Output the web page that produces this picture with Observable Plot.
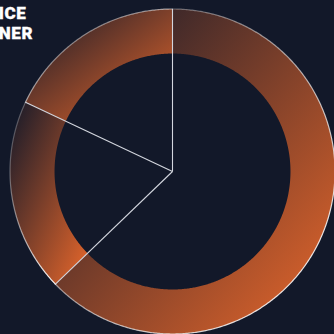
<!DOCTYPE html>
<html><head><meta charset="utf-8">
<script src="https://cdn.jsdelivr.net/npm/d3@7"></script>
<script src="https://cdn.jsdelivr.net/npm/@observablehq/plot@0.6"></script>
<style>
html,body{margin:0;padding:0;background:#121829;overflow:hidden;width:334px;height:334px}
#wrap{position:relative;width:334px;height:334px}
#chart{position:absolute;left:0;top:0}
#title{position:absolute;left:-1.2px;top:2.7px;font-family:Roboto,"Noto Sans",sans-serif;font-weight:900;font-size:17px;color:#fff;line-height:20px;letter-spacing:0.6px;white-space:nowrap;-webkit-text-stroke:0.3px #fff}
</style></head><body>
<div id="wrap"><div id="chart"></div><div id="title"></div></div>
<script>
// Data (clockwise from 12 o'clock)
const categories = ["Slice A", "Slice B", "Slice C"];
const shares = [62.8, 19.2, 18.0]; // percent
const titleLines = ["ICE", "NER"];

// geometry (unit circle)
const outerR = 1, innerR = 0.726;
const total = d3.sum(shares);
let acc = 0;
const slices = categories.map((c, i) => {
  const a0 = acc / total * 2 * Math.PI;
  acc += shares[i];
  const a1 = acc / total * 2 * Math.PI;
  return {c, i, a0, a1};
});
const pt = (r, a) => ({x: r * Math.sin(a), y: -r * Math.cos(a)});
const ringPts = [], rimPts = [];
for (const s of slices) {
  const n = Math.max(2, Math.ceil((s.a1 - s.a0) / (Math.PI / 360)));
  for (let k = 0; k <= n; k++) {
    const a = s.a0 + (s.a1 - s.a0) * k / n;
    ringPts.push({slice: s.c, ...pt(outerR, a)});
    rimPts.push({slice: s.c, ...pt(outerR, a)});
  }
  for (let k = n; k >= 0; k--) {
    const a = s.a0 + (s.a1 - s.a0) * k / n;
    ringPts.push({slice: s.c, ...pt(innerR, a)});
  }
}

const plot = Plot.plot({
  width: 334, height: 334,
  margin: 0,
  style: {background: "transparent", color: "white"},
  x: {domain: [-172 / 162.5, 162 / 162.5], range: [0, 334], axis: null},
  y: {domain: [-171 / 162.5, 163 / 162.5], range: [0, 334], axis: null},
  marks: [
    Plot.line(ringPts, {x: "x", y: "y", z: "slice", fill: "url(#ringFill)", stroke: "none", curve: "linear-closed"}),
    Plot.line(rimPts, {x: "x", y: "y", z: "slice", fill: "none", stroke: "url(#rimStroke)", strokeWidth: 1.2}),
    Plot.link(slices, {
      x1: d => 0, y1: d => 0,
      x2: d => pt(outerR, d.a0).x, y2: d => pt(outerR, d.a0).y,
      stroke: "#d3d6de", strokeWidth: 1.1
    })
  ]
});

// gradients
const ns = "http://www.w3.org/2000/svg";
const defs = document.createElementNS(ns, "defs");
function grad(id, color, stops) {
  const g = document.createElementNS(ns, "linearGradient");
  g.setAttribute("id", id);
  g.setAttribute("x1", "0"); g.setAttribute("y1", "0");
  g.setAttribute("x2", "1"); g.setAttribute("y2", "1");
  for (const [o, op] of stops) {
    const s = document.createElementNS(ns, "stop");
    s.setAttribute("offset", o);
    s.setAttribute("stop-color", color);
    s.setAttribute("stop-opacity", op);
    g.appendChild(s);
  }
  defs.appendChild(g);
}
grad("ringFill", "#df642b", [[0, 0], [0.95, 1]]);
grad("rimStroke", "#ffffff", [[0, 0.15], [0.95, 0.95]]);
plot.insertBefore(defs, plot.firstChild);
document.getElementById("chart").appendChild(plot);

const title = document.getElementById("title");
titleLines.forEach((t, i) => {
  if (i) title.appendChild(document.createElement("br"));
  title.appendChild(document.createTextNode(t));
});
</script>
</body></html>
